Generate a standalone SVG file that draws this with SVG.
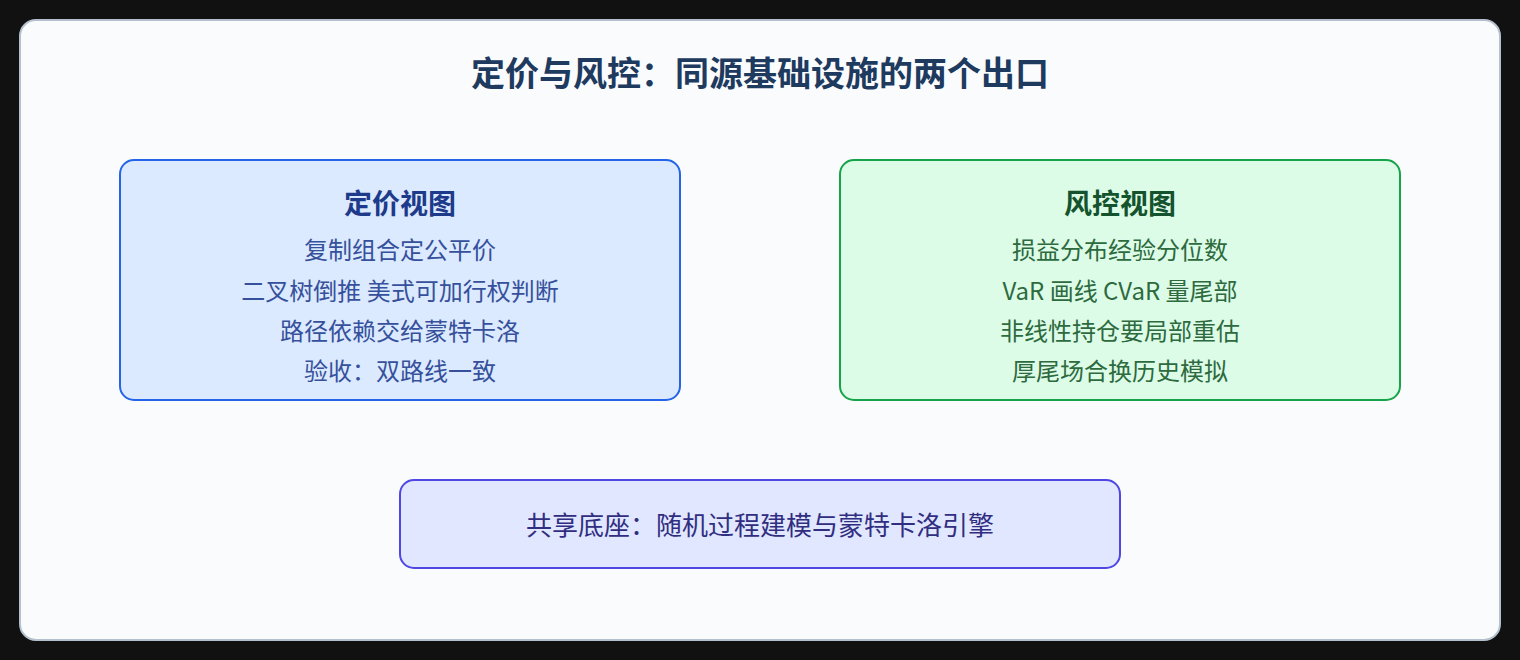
<svg xmlns="http://www.w3.org/2000/svg" width="1520" height="660" viewBox="0 0 1520 660">
<style>
text{font-family:"Noto Sans CJK SC","Noto Sans",sans-serif;text-anchor:middle}
.title{font-size:34px;font-weight:700;fill:#1e3a5f}
.h{font-size:28px;font-weight:700}
.l{font-size:24px}
.box{stroke-width:2}
</style>
<rect x="0" y="0" width="1520" height="660" fill="#111111"/>
<rect x="20" y="20" width="1480" height="620" rx="16" fill="#f9fbfd" stroke="#b4c0ce" stroke-width="2"/>
<text class="title" x="760" y="86">定价与风控：同源基础设施的两个出口</text>
<g id="connectors"></g>
<g id="pricing">
<rect class="box" x="120" y="160" width="560" height="240" rx="14" fill="#dbeafe" stroke="#2563eb"/>
<text class="h" x="400" y="214" fill="#1e3a8a">定价视图</text>
<g class="l" fill="#36509c">
<text x="400" y="259">复制组合定公平价</text>
<text x="400" y="300">二叉树倒推 美式可加行权判断</text>
<text x="400" y="340">路径依赖交给蒙特卡洛</text>
<text x="400" y="380">验收：双路线一致</text>
</g>
</g>
<g id="risk">
<rect class="box" x="840" y="160" width="560" height="240" rx="14" fill="#dcfce7" stroke="#16a34a"/>
<text class="h" x="1120" y="214" fill="#14532d">风控视图</text>
<g class="l" fill="#2d6a3e">
<text x="1120" y="259">损益分布经验分位数</text>
<text x="1120" y="300">VaR 画线 CVaR 量尾部</text>
<text x="1120" y="340">非线性持仓要局部重估</text>
<text x="1120" y="380">厚尾场合换历史模拟</text>
</g>
</g>
<g id="base">
<rect class="box" x="400" y="480" width="720" height="88" rx="14" fill="#e0e7ff" stroke="#4f46e5"/>
<text x="760" y="535" font-size="26" fill="#312e81">共享底座：随机过程建模与蒙特卡洛引擎</text>
</g>
</svg>
